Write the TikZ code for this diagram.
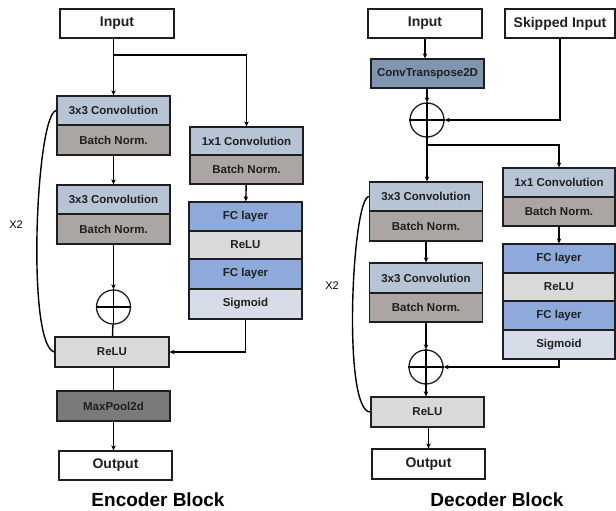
\documentclass[tikz,border=0pt]{standalone}
\usepackage{fontspec}
\setmainfont{Liberation Sans}
\usetikzlibrary{arrows.meta,calc}
\definecolor{convc}{RGB}{183,196,214}
\definecolor{bnc}{RGB}{171,166,164}
\definecolor{fcc}{RGB}{142,170,219}
\definecolor{reluc}{RGB}{217,217,217}
\definecolor{sigc}{RGB}{215,221,232}
\definecolor{maxc}{RGB}{122,122,122}
\definecolor{ctc}{RGB}{128,149,176}
\definecolor{edgec}{RGB}{30,30,30}
\tikzset{
  blk/.style={draw=edgec,line width=1.3pt,minimum width=113pt,minimum height=29pt,inner sep=0pt,
    font=\fontsize{11.5}{13}\selectfont\bfseries,text=black!88},
  iobox/.style={blk,fill=white,font=\fontsize{14}{16}\selectfont\bfseries},
  plusc/.style={draw=edgec,line width=1.3pt,circle,minimum size=34pt,inner sep=0pt},
  con/.style={line width=1.4pt,draw=black},
  arr/.style={con,-{Stealth[length=5pt,width=4.5pt]}},
  ttl/.style={font=\fontsize{19}{22}\selectfont\bfseries},
  lbl/.style={font=\fontsize{11}{13}\selectfont}
}
\begin{document}
\begin{tikzpicture}[x=1pt,y=-1pt]
\useasboundingbox (0,0) rectangle (616,511);
% ---------------- Encoder ----------------
\node[iobox,minimum width=114pt] (ein) at (117,23.5) {Input};
\node[blk,fill=convc] (ec1) at (113.5,110.5) {3x3 Convolution};
\node[blk,fill=bnc,minimum height=30pt] (eb1) at (113.5,140) {Batch Norm.};
\node[blk,fill=convc] (ec2) at (113.5,199.5) {3x3 Convolution};
\node[blk,fill=bnc,minimum height=30pt] (eb2) at (113.5,229) {Batch Norm.};
\node[plusc] (ep) at (113.5,307) {};
\draw[con] (ep.north) -- (ep.south) (ep.west) -- (ep.east);
\node[blk,fill=reluc,minimum width=114pt,minimum height=30pt] (erelu) at (112,352) {ReLU};
\node[blk,fill=maxc,minimum height=30pt] (emax) at (113.5,406) {MaxPool2d};
\node[iobox] (eout) at (115.5,465.5) {Output};
\node[blk,fill=convc,minimum height=28pt] (e1x1) at (246.5,141) {1x1 Convolution};
\node[blk,fill=bnc] (eb3) at (246.5,169.5) {Batch Norm.};
\node[blk,fill=fcc] (efc1) at (245.5,216.5) {FC layer};
\node[blk,fill=reluc,minimum height=28pt] (erelu2) at (245.5,245) {ReLU};
\node[blk,fill=fcc,minimum height=30pt] (efc2) at (245.5,274) {FC layer};
\node[blk,fill=sigc,minimum height=30pt] (esig) at (245.5,304) {Sigmoid};
\coordinate (ej) at (113.5,55);
\draw[con] (ein.south -| ej) -- (ej);
\draw[arr] (ej) -- (ec1.north);
\draw[arr] (ej) -| (e1x1.north);
\draw[arr] (eb1) -- (ec2);
\draw[arr] (eb2) -- (ep);
\draw[con] (ep) -- (erelu);
\draw[con] (erelu.south -| emax.north) -- (emax.north);
\draw[arr] (emax.south) -- (emax.south |- eout.north);
\draw[arr] (eb3) -- (efc1);
\draw[arr] (esig.south) |- (erelu.east);
\draw[con] (ec1.west) .. controls (36,113) and (26,345) .. (erelu.west);
\node[lbl] (ex2) at (16,225) {X2};
\node[ttl] (etitle) at (158,500) {Encoder Block};
% ---------------- Decoder ----------------
\node[iobox,minimum width=114pt] (din) at (425,23.5) {Input};
\node[iobox,minimum width=110pt] (dskip) at (560,23.5) {Skipped Input};
\node[blk,fill=ctc] (dct) at (427.5,73.5) {ConvTranspose2D};
\node[plusc] (dp1) at (427,120) {};
\draw[con] (dp1.north) -- (dp1.south) (dp1.west) -- (dp1.east);
\node[blk,fill=convc] (dc1) at (426,196.5) {3x3 Convolution};
\node[blk,fill=bnc,minimum height=30pt] (db1) at (426,226) {Batch Norm.};
\node[blk,fill=convc,minimum height=30pt] (dc2) at (426,278) {3x3 Convolution};
\node[blk,fill=bnc] (db2) at (426,307.5) {Batch Norm.};
\node[plusc] (dp2) at (426,367) {};
\draw[con] (dp2.north) -- (dp2.south) (dp2.west) -- (dp2.east);
\node[blk,fill=reluc,minimum height=30pt] (drelu) at (427.5,412) {ReLU};
\node[iobox,minimum height=30pt] (dout) at (428.5,464) {Output};
\node[blk,fill=convc,minimum width=112pt] (d1x1) at (559,182.5) {1x1 Convolution};
\node[blk,fill=bnc,minimum width=112pt] (db3) at (559,211.5) {Batch Norm.};
\node[blk,fill=fcc,minimum width=112pt] (dfc1) at (559,258.5) {FC layer};
\node[blk,fill=reluc,minimum width=112pt,minimum height=28pt] (drelu2) at (559,287) {ReLU};
\node[blk,fill=fcc,minimum width=112pt] (dfc2) at (559,315.5) {FC layer};
\node[blk,fill=sigc,minimum width=112pt] (dsig) at (559,344.5) {Sigmoid};
\draw[arr] (din.south) -- (din.south |- dct.north);
\draw[arr] (dct.south -| dp1.north) -- (dp1.north);
\draw[arr] (dskip.south) |- (dp1.east);
\coordinate (dj) at (427,145);
\draw[con] (dp1.south) -- (dj);
\draw[arr] (dj) -- (dj |- dc1.north);
\draw[arr] (dj) -| (d1x1.north);
\draw[arr] (db1) -- (dc2);
\draw[arr] (db2) -- (dp2);
\draw[arr] (dp2.south) -- (dp2.south |- drelu.north);
\draw[arr] (drelu.south -| dout.north) -- (dout.north);
\draw[arr] (db3) -- (dfc1);
\draw[arr] (dsig.south) |- (dp2.east);
\draw[con] (dc1.west) .. controls (352,198) and (342,412) .. (drelu.west);
\node[lbl] (dx2) at (332,286) {X2};
\node[ttl] (dtitle) at (497,500) {Decoder Block};
\end{tikzpicture}
\end{document}
